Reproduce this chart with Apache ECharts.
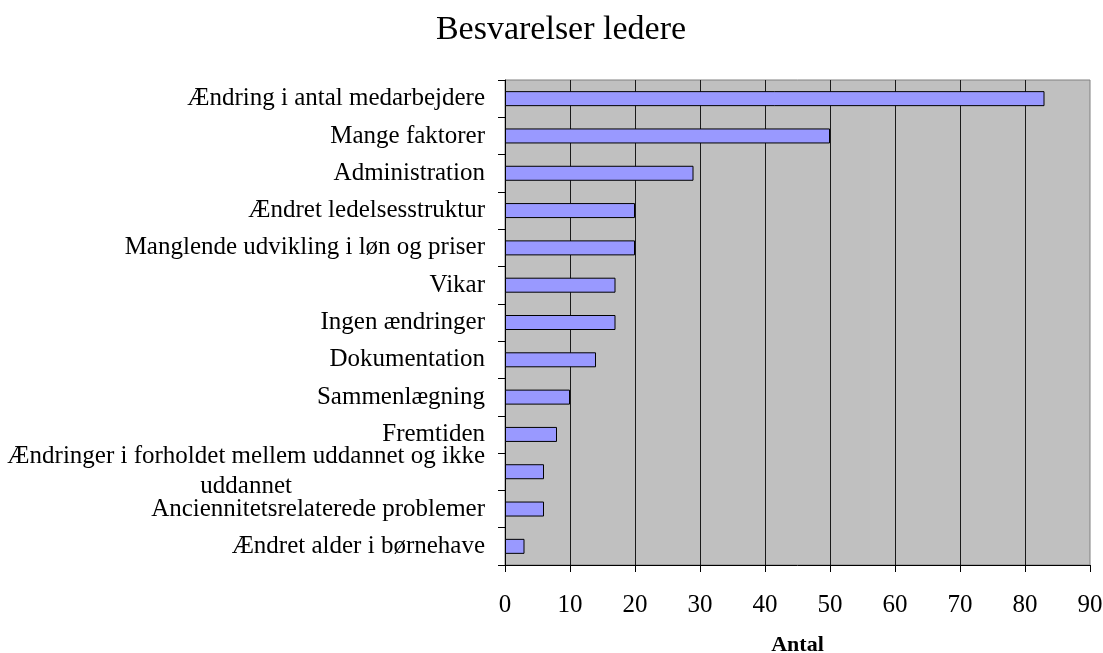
<!DOCTYPE html>
<html>
<head>
<meta charset="utf-8">
<script src="https://cdn.jsdelivr.net/npm/echarts@6/dist/echarts.min.js"></script>
<style>
  html, body { margin: 0; padding: 0; background: #fff; }
  #chart { width: 1103px; height: 653px; }
</style>
</head>
<body>
<div id="chart"></div>
<script>
// kategorier, øverst først
const categories = [
  'Ændring i antal medarbejdere',
  'Mange faktorer',
  'Administration',
  'Ændret ledelsesstruktur',
  'Manglende udvikling i løn og priser',
  'Vikar',
  'Ingen ændringer',
  'Dokumentation',
  'Sammenlægning',
  'Fremtiden',
  'Ændringer i forholdet mellem uddannet og ikke\nuddannet',
  'Anciennitetsrelaterede problemer',
  'Ændret alder i børnehave'
]
// antal besvarelser
const counts = [83, 50, 29, 20, 20, 17, 17, 14, 10, 8, 6, 6, 3]
const xTicks = { min: 0, max: 90, step: 10 }

const serif = '"Liberation Serif", "DejaVu Serif", serif'

const chart = echarts.init(document.getElementById('chart'))
chart.setOption({
  animation: false,
  title: {
    text: 'Besvarelser ledere',
    left: 556,
    textAlign: 'center',
    top: 8,
    textStyle: { fontFamily: serif, fontSize: 34, fontWeight: 'normal', color: '#000' }
  },
  grid: {
    left: 505,
    right: 13,
    top: 80,
    bottom: 88,
    outerBoundsMode: 'none',
    show: true,
    backgroundColor: '#c0c0c0',
    borderColor: '#808080',
    borderWidth: 1
  },
  xAxis: {
    type: 'value',
    min: xTicks.min,
    max: xTicks.max,
    interval: xTicks.step,
    name: 'Antal',
    nameLocation: 'middle',
    nameGap: 69,
    nameTextStyle: { fontFamily: serif, fontSize: 22, fontWeight: 'bold', color: '#000' },
    axisLine: { show: true, lineStyle: { color: '#000', width: 1 } },
    axisTick: { show: true, length: 7, lineStyle: { color: '#000' } },
    axisLabel: { margin: 28, fontFamily: serif, fontSize: 25, color: '#000' },
    splitLine: { show: true, showMinLine: false, showMaxLine: false, lineStyle: { color: '#1a1a1a', width: 1 } }
  },
  yAxis: {
    type: 'category',
    inverse: true,
    data: categories,
    axisLine: { show: true, lineStyle: { color: '#000', width: 1 } },
    axisTick: { show: true, length: 7, lineStyle: { color: '#000' } },
    axisLabel: {
      margin: 20,
      fontFamily: serif,
      fontSize: 25,
      color: '#000',
      formatter: function (v) {
        // ombrudt etiket: anden linje centreres under første
        if (v.indexOf('\n') < 0) return v
        return v.split('\n').map((s) => '{c|' + s + '}').join('\n')
      },
      rich: {
        c: { align: 'center', fontFamily: serif, fontSize: 25, lineHeight: 30, color: '#000' }
      }
    },
    splitLine: { show: false }
  },
  series: [
    {
      type: 'bar',
      data: counts,
      barWidth: 15,
      itemStyle: { color: '#9999ff', borderColor: '#000', borderWidth: 1 }
    }
  ]
})
</script>
</body>
</html>
